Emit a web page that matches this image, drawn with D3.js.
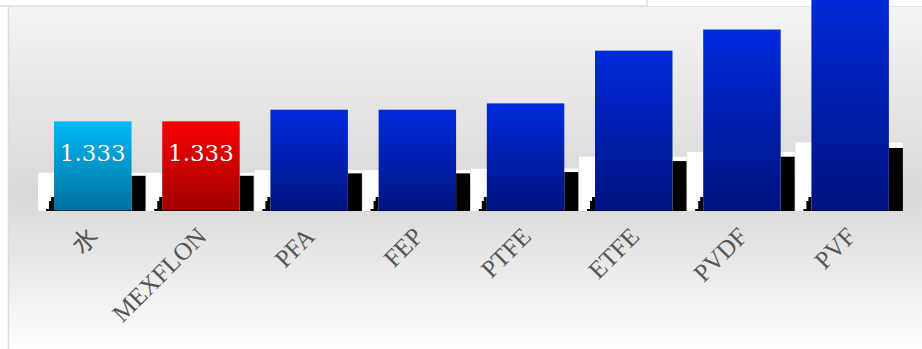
<!DOCTYPE html>
<html><head><meta charset="utf-8">
<script src="https://cdn.jsdelivr.net/npm/d3@7/dist/d3.min.js"></script>
<style>html,body{margin:0;padding:0;background:#fff;overflow:hidden}</style>
</head><body>
<svg id="c" width="922" height="349"></svg>
<script>
const categories = ["水","MEXFLON","PFA","FEP","PTFE","ETFE","PVDF","PVF"];
const values = [1.333, 1.333, 1.344, 1.344, 1.35, 1.40, 1.42, 1.46];
const valueLabels = ["1.333","1.333","","","","","",""];
const barColors = [["#00baf9","#00709b"],["#fa0000","#a00000"],["#002ade","#00147e"],["#002ade","#00147e"],["#002ade","#00147e"],["#002ade","#00147e"],["#002ade","#00147e"],["#002ade","#00147e"]];
const yDomain = [1.248, 1.448];

const svg = d3.select("#c");
const W = 922, H = 349, baseY = 211;
const defs = svg.append("defs");

const bg = defs.append("linearGradient").attr("id","bg").attr("x1",0).attr("y1",0).attr("x2",0).attr("y2",1);
bg.append("stop").attr("offset","0%").attr("stop-color","#f4f4f4");
bg.append("stop").attr("offset","55%").attr("stop-color","#d8d8d8");
bg.append("stop").attr("offset","100%").attr("stop-color","#fefefe");

barColors.forEach((c,i)=>{
  const g = defs.append("linearGradient").attr("id","bar"+i).attr("x1",0).attr("y1",0).attr("x2",0).attr("y2",1);
  g.append("stop").attr("offset","0%").attr("stop-color",c[0]);
  g.append("stop").attr("offset","100%").attr("stop-color",c[1]);
});

// plot background
svg.append("rect").attr("x",9).attr("y",7).attr("width",W-9).attr("height",H-7).attr("fill","url(#bg)");
svg.append("line").attr("x1",8.5).attr("x2",8.5).attr("y1",6).attr("y2",H).attr("stroke","#dcdcdc").attr("stroke-width",1.5);
svg.append("line").attr("x1",8).attr("x2",W).attr("y1",6.5).attr("y2",6.5).attr("stroke","#e4e4e4").attr("stroke-width",1);
// top box (cut off)
svg.append("rect").attr("x",-2).attr("y",-20).attr("width",649).attr("height",26).attr("fill","#fff").attr("stroke","#dedede").attr("stroke-width",1.5);

const x = d3.scaleBand().domain(categories).range([23.3, 919.6]).padding(0.284);
const y = d3.scaleLinear().domain(yDomain).range([baseY, 0]);
const sh = d3.scaleLinear().domain(yDomain).range([18, 18 + 0.226*baseY]);

const data = categories.map((c,i)=>({c, v:values[i], lab:valueLabels[i], i}));
const gBars = svg.append("g");

data.forEach(d=>{
  const L = x(d.c), bw = x.bandwidth(), R = L + bw;
  const sH = sh(d.v);
  // white highlight
  gBars.append("rect").attr("x",L-16).attr("y",baseY - sH).attr("width",bw+30).attr("height",sH).attr("fill","#fff");
  // black shadow right
  const bH = sH*0.92;
  gBars.append("rect").attr("x",R).attr("y",baseY - bH).attr("width",14).attr("height",bH).attr("fill","#000");
  // left stair
  gBars.append("path").attr("d",`M${L-8},${baseY}V${baseY-2}H${L-5}V${baseY-10}H${L-3}V${baseY-14}H${L}V${baseY}Z`).attr("fill","#000");
  // bar
  gBars.append("rect").attr("x",L).attr("y",y(d.v)).attr("width",bw).attr("height",baseY - y(d.v)).attr("fill",`url(#bar${d.i})`);
  gBars.append("rect").attr("x",L).attr("y",baseY-1).attr("width",bw).attr("height",1).attr("fill","#000").attr("opacity",0.6);
  if (d.lab) {
    gBars.append("text").attr("x",L+bw/2).attr("y",y(d.v)+40).attr("text-anchor","middle")
      .attr("font-family","DejaVu Serif").attr("font-size",23).attr("fill","#fff")
      .attr("stroke","rgba(0,0,0,0.25)").attr("stroke-width",0.6).attr("paint-order","stroke")
      .text(d.lab);
  }
});

// x axis labels
const xa = svg.append("g").attr("transform",`translate(0,${baseY})`)
  .call(d3.axisBottom(x).tickSize(0).tickPadding(0));
xa.select(".domain").remove();
xa.selectAll("text")
  .attr("font-family","'Liberation Serif','Noto Sans CJK SC',serif").attr("font-size",25).attr("fill","#555")
  .attr("text-anchor","end").attr("dy",0).attr("y",0)
  .attr("transform","translate(7,27) rotate(-45)");
</script>
</body></html>
